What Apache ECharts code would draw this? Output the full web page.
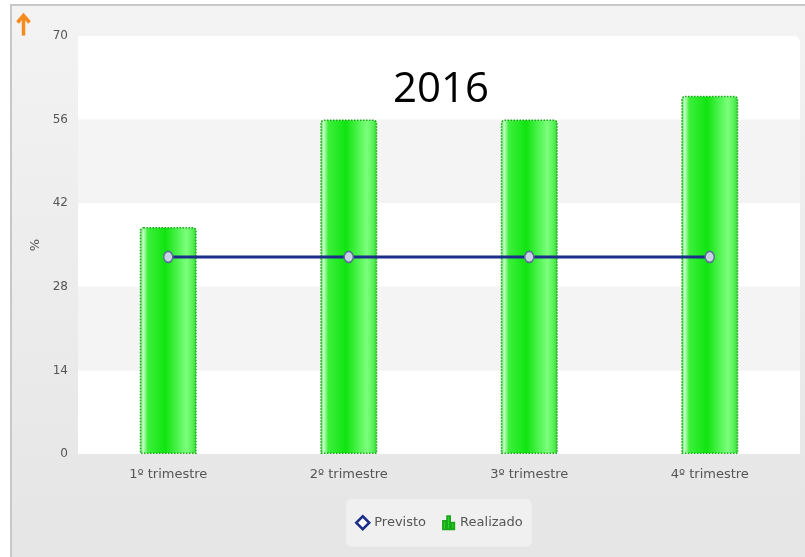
<!DOCTYPE html>
<html><head><meta charset="utf-8">
<script src="https://cdn.jsdelivr.net/npm/echarts@6/dist/echarts.min.js"></script>
<style>html,body{margin:0;padding:0;background:#fff}#c{width:805px;height:557px}</style>
</head><body><div id="c"></div>
<script>
const categories = ['1º trimestre', '2º trimestre', '3º trimestre', '4º trimestre'];
const realizado = [38, 56, 56, 60];
const previsto = [33, 33, 33, 33];
const yTicks = [0, 14, 28, 42, 56, 70];

const chart = echarts.init(document.getElementById('c'));
const barGrad = new echarts.graphic.LinearGradient(0, 0, 1, 0, [
  {offset: 0, color: '#2fd42f'},
  {offset: 0.06, color: '#c8ffc8'},
  {offset: 0.14, color: '#3cf03c'},
  {offset: 0.45, color: '#10e410'},
  {offset: 0.82, color: '#7cff7c'},
  {offset: 0.93, color: '#55f055'},
  {offset: 1, color: '#2fd42f'}
]);
chart.setOption({
  animation: false,
  backgroundColor: 'transparent',
  graphic: [
    {type: 'rect', z: -10, shape: {x: 11, y: 5, width: 800, height: 560},
     style: {fill: new echarts.graphic.LinearGradient(0, 0, 0, 1, [{offset: 0, color: '#f3f3f3'}, {offset: 1, color: '#e5e5e5'}]), stroke: '#c8c8c8', lineWidth: 2}},
    {type: 'rect', z: -9, shape: {x: 78, y: 36, width: 722, height: 418, r: [0, 6, 0, 0]}, style: {fill: '#ffffff'}},
    {type: 'group', left: 15, top: 13, children: [
      {type: 'polyline', shape: {points: [[1, 9], [7, 2], [13, 9]]}, style: {stroke: '#f68a1e', lineWidth: 3.5, fill: 'none'}},
      {type: 'line', shape: {x1: 7, y1: 2, x2: 7, y2: 22}, style: {stroke: '#f68a1e', lineWidth: 3.5}}
    ]}
  ],
  title: {text: '2016', left: 388, top: 64,
    textStyle: {fontFamily: 'Open Sans', fontSize: 42, fontWeight: 'normal', color: '#000'}},
  grid: {left: 78, right: 5, top: 36, bottom: 103},
  legend: {
    top: 499, left: 346, itemGap: 16, itemWidth: 13, itemHeight: 13,
    backgroundColor: '#f0f0f0', borderRadius: 5, padding: [16, 9],
    textStyle: {fontFamily: 'DejaVu Sans', fontSize: 13, color: '#555'},
    data: [
      {name: 'Previsto', icon: 'path://M6,0L12,6L6,12L0,6Z', itemStyle: {color: '#fff', borderColor: '#1a2e8a', borderWidth: 2.5}},
      {name: 'Realizado', icon: 'path://M0,5h3v9H0z M4.5,0h3v14h-3z M9,7h3v7H9z', itemStyle: {color: '#22e822'}}
    ]
  },
  xAxis: {
    type: 'category', data: categories,
    axisLine: {show: false}, axisTick: {show: false},
    axisLabel: {margin: 14, fontFamily: 'DejaVu Sans', fontSize: 13, color: '#555'}
  },
  yAxis: {
    type: 'value', min: 0, max: 70, interval: 14,
    name: '%', nameLocation: 'middle', nameGap: 32, nameRotate: 90,
    nameTextStyle: {fontFamily: 'DejaVu Sans', fontSize: 13, color: '#555'},
    axisLine: {show: false}, axisTick: {show: false}, splitLine: {show: false},
    splitArea: {show: true, areaStyle: {color: ['rgba(255,255,255,0)', '#f4f4f4']}},
    axisLabel: {margin: 10, fontFamily: 'DejaVu Sans', fontSize: 12, color: '#555',
      formatter: v => yTicks.includes(v) ? String(v) : ''}
  },
  series: [
    {name: 'Realizado', type: 'bar', data: realizado, barWidth: 57, z: 2,
     itemStyle: {color: barGrad, borderColor: '#1ca81c', borderWidth: 1.5, borderType: 'dotted', borderRadius: [3, 3, 0, 0]}},
    {name: 'Previsto', type: 'line', data: previsto, z: 3,
     lineStyle: {color: '#1a2e8a', width: 3},
     symbol: 'circle', symbolSize: [9, 11],
     itemStyle: {color: '#c8d4e4', borderColor: '#5a6e96', borderWidth: 1.5}}
  ]
});
</script></body></html>
